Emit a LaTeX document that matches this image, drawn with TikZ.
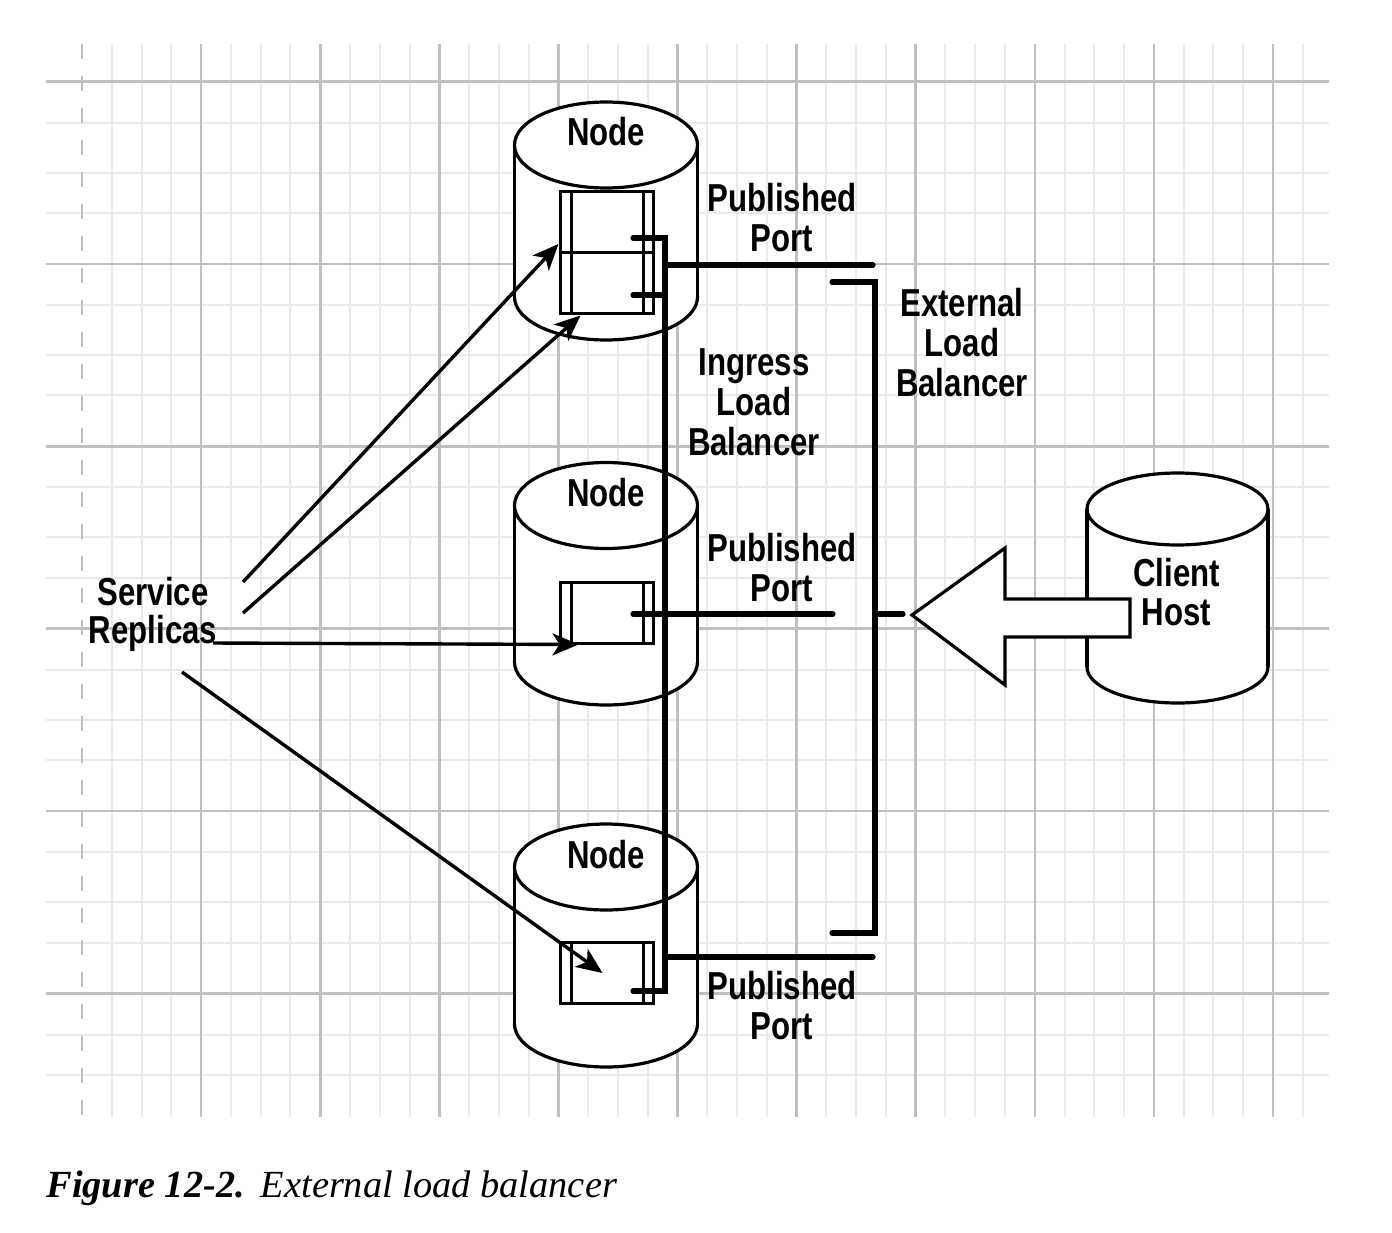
\documentclass[tikz,border=0pt]{standalone}
\usepackage{fontspec}
\newfontfamily\lblfont{Liberation Sans}[FakeStretch=0.8]
\newfontfamily\capserif{Liberation Serif}
\usetikzlibrary{arrows.meta,calc}

\definecolor{gridmajor}{HTML}{BFBFBF}
\definecolor{gridminor}{HTML}{EAEAEA}

% cylinder: centre x, top-ellipse centre y, bottom-ellipse centre y, x radius, y radius
\newcommand{\tincan}[5]{%
  \filldraw[can] (#1,#3) ellipse [x radius=#4, y radius=#5];
  \fill[white] (#1-#4,#2) rectangle (#1+#4,#3);
  \filldraw[can] (#1,#2) ellipse [x radius=#4, y radius=#5];
  \draw[can] (#1-#4,#2) -- (#1-#4,#3) (#1+#4,#2) -- (#1+#4,#3);
}

\tikzset{
  can/.style={line width=1.6pt, draw=black, fill=white},
  minorline/.style={line width=1pt, draw=gridminor},
  majorline/.style={line width=1.3pt, draw=gridmajor},
  lbl/.style={font=\lblfont\bfseries\fontsize{19.5}{20}\selectfont, align=center, inner sep=0pt, anchor=north},
  container/.style={draw, fill=white, line width=1.5pt, minimum width=46.5pt,
    minimum height=30.5pt, inner sep=0pt,
    path picture={
      \draw[line width=1.5pt]
        ([xshift=5.5pt]path picture bounding box.north west) -- ([xshift=5.5pt]path picture bounding box.south west)
        ([xshift=-5pt]path picture bounding box.north east) -- ([xshift=-5pt]path picture bounding box.south east);
    }},
  feed/.style={line width=1.7pt, -{Stealth[length=13pt,width=11pt,inset=3.5pt]}},
  bus/.style={line width=2.6pt, line cap=round},
}

\begin{document}
\begin{tikzpicture}[x=0.5pt, y=-0.5pt]
\useasboundingbox (0,0) rectangle (1392,1232);

% ---- grid paper ----
\foreach \m in {0,...,4} {
  \foreach \d in {41,91,131.5}
    \draw[minorline] (46,81.5+182.4*\m+\d) -- (1329,81.5+182.4*\m+\d);
}
\foreach \yy in {1034.5,1075}
  \draw[minorline] (46,\yy) -- (1329,\yy);
\foreach \k in {1,...,41}
  \draw[minorline] (82+29.775*\k,44) -- (82+29.775*\k,1117);
\foreach \m in {0,...,5}
  \draw[majorline] (46,81.5+182.4*\m) -- (1329,81.5+182.4*\m);
\foreach \n in {1,...,10}
  \draw[majorline] (82+119.1*\n,44) -- (82+119.1*\n,1117);
\draw[majorline, dash pattern=on 7.5pt off 8.5pt] (82,44) -- (82,1117);

% ---- cluster nodes ----
\tincan{606}{145}{297}{91.5}{43}
\tincan{606}{505.5}{662}{91.5}{43}
\tincan{606}{867}{1024}{91.5}{43}

\node[lbl] (n1) at (606,117) {Node};
\node[lbl] (n2) at (606,478) {Node};
\node[lbl] (n3) at (606,840) {Node};

% ---- service replica containers ----
\node[container] (ct1) at (606.5,222) {};
\node[container] (ct2) at (606.5,282.5) {};
\node[container] (cmid) at (606.5,612.5) {};
\node[container] (cbot) at (606.5,973) {};

% ---- ingress load balancer ----
\coordinate (igA) at (633,238);
\coordinate (igB) at (665,238);
\coordinate (igC) at (665,991);
\coordinate (igD) at (633,991);
\coordinate (igE) at (633,295);
\coordinate (igF) at (665,295);
\draw[bus] (igA) -- (igB) -- (igC) -- (igD);
\draw[bus] (igE) -- (igF);

% ---- published ports ----
\coordinate (ppTa) at (667,265);
\coordinate (ppTb) at (873,265);
\coordinate (ppMa) at (633,614);
\coordinate (ppMb) at (833,614);
\coordinate (ppBa) at (667,957);
\coordinate (ppBb) at (873,957);
\draw[bus] (ppTa) -- (ppTb);
\draw[bus] (ppMa) -- (ppMb);
\draw[bus] (ppBa) -- (ppBb);

% ---- external load balancer ----
\coordinate (exA) at (832,282);
\coordinate (exB) at (875,282);
\coordinate (exC) at (875,933);
\coordinate (exD) at (832,933);
\coordinate (exM) at (875,614);
\coordinate (exT) at (903,614);
\draw[bus] (exA) -- (exB) -- (exC) -- (exD);
\draw[bus] (exM) -- (exT);

% ---- client host ----
\tincan{1177.5}{509}{667}{90.5}{36}
\node[lbl] (client) at (1176.5,558) {Client\\[-0.6pt]Host};
\draw[line width=1.6pt, fill=white, line join=miter]
  (912,615) -- (1005,548) -- (1005,599) -- (1130,599) -- (1130,637)
  -- (1005,637) -- (1005,685) -- cycle;

% ---- labels ----
\node[lbl] (ppT) at (782,183) {Published\\Port};
\node[lbl] (ppM) at (782,533) {Published\\Port};
\node[lbl] (ppB) at (782,971) {Published\\Port};
\node[lbl] (ingress) at (754,348) {Ingress\\Load\\Balancer};
\node[lbl] (external) at (962,288) {External\\Load\\Balancer};
\node[lbl] (sr) at (153,577) {Service\\[-1pt]Replicas};

% ---- replica placement arrows ----
\coordinate (s1) at (243,582);
\coordinate (s2) at (243,613);
\coordinate (s3) at (213,643);
\coordinate (s4) at (182,672);
\draw[feed] (s1) -- ($(ct1.south west)+(0,-10)$);
\draw[feed] (s2) -- ($(ct2.south west)+(22,1)$);
\draw[feed] (s3) -- ($(cmid.south west)+(20,0)$);
\draw[feed] (s4) -- ($(cbot.center)+(-4,0)$);

% ---- caption ----
\node[anchor=base west, inner sep=0pt, font=\capserif\fontsize{19.2}{21}\selectfont] (caption) at (46,1197)
  {\textbf{\textit{Figure 12-2.}}\hspace{8pt}\textit{External load balancer}};
\end{tikzpicture}
\end{document}
